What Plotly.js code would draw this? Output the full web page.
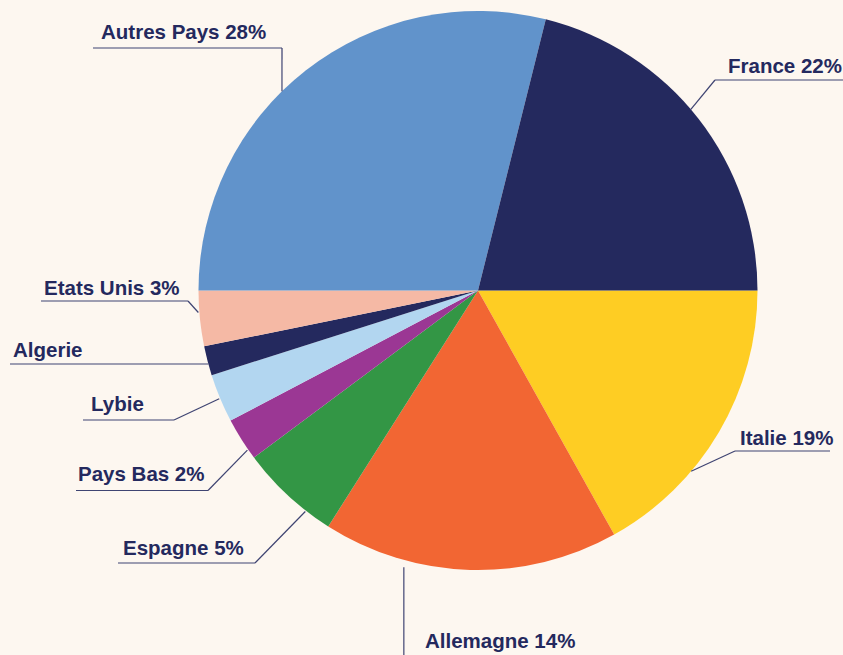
<!DOCTYPE html>
<html>
<head>
<meta charset="utf-8">
<script src="https://cdn.plot.ly/plotly-3.0.1.min.js"></script>
<style>
  html, body { margin: 0; padding: 0; background: #fdf7f0; }
  #chart { width: 843px; height: 655px; }
</style>
</head>
<body>
<div id="chart"></div>
<script>
// Données (parts angulaires des secteurs, en %)
const pays = ['Italie', 'Allemagne', 'Espagne', 'Pays Bas', 'Lybie', 'Algerie', 'Etats Unis', 'Autres Pays', 'France'];
const parts = [16.9, 17.1, 5.8, 2.5, 2.8, 1.7, 3.2, 28.9, 21.1];
const etiquettes = ['Italie 19%', 'Allemagne 14%', 'Espagne 5%', 'Pays Bas 2%', 'Lybie', 'Algerie', 'Etats Unis 3%', 'Autres Pays 28%', 'France 22%'];
const couleurs = ['#fecd23', '#f26633', '#339645', '#9b3794', '#b2d6f0', '#24295e', '#f5b9a5', '#6193cb', '#24295e'];

// Géométrie du camembert (pixels)
const W = 843, H = 655;
const CX = 478, CY = 290.5, R = 279.5;
const px = v => v / W;
const py = v => 1 - v / H;

// Placement des étiquettes : texte, soulignement, coude, angle sur le bord
// side: 'L' => coude à droite du soulignement, 'R' => coude à gauche
const placements = {
    'Autres Pays': { tx: 99, ty: 31, uy: 48, ux0: 93, ux1: 282, side: 'L', angle: 315.47, pad: 0 },
    'France':      { tx: 726, ty: 65, uy: 80, ux0: 715, ux1: 843, side: 'R', angle: 49.6, pad: 0 },
    'Italie':      { tx: 738, ty: 437, uy: 451, ux0: 735, ux1: 830, side: 'R', angle: 130.3, pad: 0 },
    'Allemagne':   { tx: 423, ty: 640, vertical: true, bottom: 655, angle: 195.0, pad: 7 },
    'Espagne':     { tx: 121, ty: 547, uy: 563, ux0: 118, ux1: 255, side: 'L', angle: 218.0, pad: 1 },
    'Pays Bas':    { tx: 76, ty: 473, uy: 490.5, ux0: 76, ux1: 208, side: 'L', angle: 235.3, pad: 1 },
    'Lybie':       { tx: 89, ty: 403, uy: 420, ux0: 83, ux1: 174, side: 'L', angle: 247.3, pad: 1 },
    'Algerie':     { tx: 11, ty: 349, uy: 364, ux0: 10, ux1: null, side: 'L', angle: 254.75, pad: 0 },
    'Etats Unis':  { tx: 42, ty: 287, uy: 301, ux0: 41, ux1: 188, side: 'L', angle: 265.5, pad: 1 }
};

function bord(angle, pad) {
    const a = angle * Math.PI / 180;
    const r = R + pad;
    return [CX + r * Math.sin(a), CY - r * Math.cos(a)];
}

const lineStyle = { color: '#3f4472', width: 1.2 };
const shapes = [];
const annotations = [];

function segment(x0, y0, x1, y1) {
    shapes.push({
        type: 'line', xref: 'paper', yref: 'paper',
        x0: px(x0), y0: py(y0), x1: px(x1), y1: py(y1),
        line: lineStyle
    });
}

pays.forEach((p, i) => {
    const pl = placements[p];
    const [bx, by] = bord(pl.angle, pl.pad);
    if (pl.vertical) {
        segment(bx, by, bx, pl.bottom);
    } else {
        const ux1 = pl.ux1 === null ? bx : pl.ux1;
        segment(pl.ux0, pl.uy, ux1, pl.uy);
        const ex = pl.side === 'L' ? ux1 : pl.ux0;
        if (Math.abs(ex - bx) > 0.5 || Math.abs(pl.uy - by) > 0.5) {
            segment(ex, pl.uy, bx, by);
        }
    }
    annotations.push({
        xref: 'paper', yref: 'paper',
        x: px(pl.tx), y: py(pl.ty),
        xanchor: 'left', yanchor: 'middle',
        showarrow: false,
        text: '<b>' + etiquettes[i] + '</b>',
        font: { family: 'Liberation Sans, Arial, sans-serif', size: 20.5, color: '#24295e' }
    });
});

const data = [{
    type: 'pie',
    labels: pays,
    values: parts,
    sort: false,
    direction: 'clockwise',
    rotation: 90,
    textinfo: 'none',
    hoverinfo: 'label+percent',
    marker: { colors: couleurs, line: { width: 0 } },
    domain: { x: [px(CX - R), px(CX + R)], y: [py(CY + R), py(CY - R)] },
    showlegend: false
}];

const layout = {
    width: W,
    height: H,
    margin: { l: 0, r: 0, t: 0, b: 0, pad: 0 },
    paper_bgcolor: '#fdf7f0',
    plot_bgcolor: '#fdf7f0',
    showlegend: false,
    shapes: shapes,
    annotations: annotations
};

Plotly.newPlot('chart', data, layout, { displayModeBar: false, staticPlot: true });
</script>
</body>
</html>
